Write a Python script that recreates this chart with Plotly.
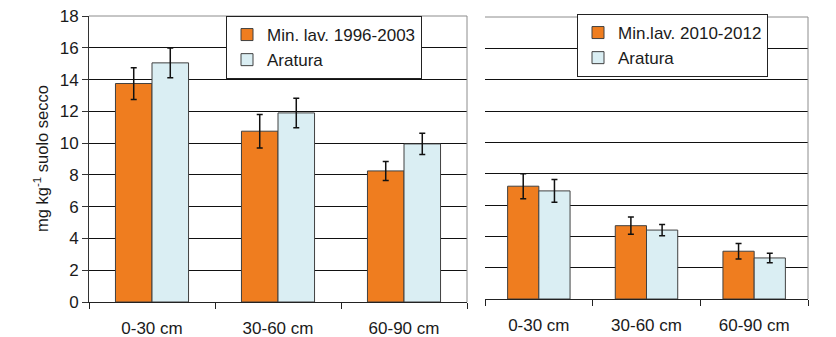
import plotly.graph_objects as go

categories = ["0-30 cm", "30-60 cm", "60-90 cm"]

left_min_vals = [13.75, 10.75, 8.25]
left_min_err = [1.0, 1.05, 0.6]
left_ara_vals = [15.05, 11.9, 9.95]
left_ara_err = [0.93, 0.93, 0.67]

right_min_vals = [7.2, 4.68, 3.05]
right_min_err = [0.8, 0.55, 0.5]
right_ara_vals = [6.9, 4.4, 2.62]
right_ara_err = [0.72, 0.36, 0.3]

name_left_min = "Min. lav. 1996-2003"
name_right_min = "Min.lav. 2010-2012"
name_ara = "Aratura"

y_ticks = [0, 2, 4, 6, 8, 10, 12, 14, 16, 18]

ORANGE = "#EF7D1F"
BLUE = "#DAEEF3"
EDGE = "#404040"
FONT = "Liberation Sans, Arial, sans-serif"
TXT = "#1a1a1a"
W, H = 836, 337

def err(arr):
    return dict(type="data", array=arr, visible=True, color="#111111", thickness=1.5, width=3)

fig = go.Figure()
fig.add_trace(go.Bar(x=categories, y=left_min_vals, name=name_left_min, marker=dict(color=ORANGE, line=dict(color=EDGE, width=1)),
                     error_y=err(left_min_err), xaxis="x", yaxis="y", legend="legend"))
fig.add_trace(go.Bar(x=categories, y=left_ara_vals, name=name_ara, marker=dict(color=BLUE, line=dict(color=EDGE, width=1)),
                     error_y=err(left_ara_err), xaxis="x", yaxis="y", legend="legend"))
fig.add_trace(go.Bar(x=categories, y=right_min_vals, name=name_right_min, marker=dict(color=ORANGE, line=dict(color=EDGE, width=1)),
                     error_y=err(right_min_err), xaxis="x2", yaxis="y2", legend="legend2"))
fig.add_trace(go.Bar(x=categories, y=right_ara_vals, name=name_ara, marker=dict(color=BLUE, line=dict(color=EDGE, width=1)),
                     error_y=err(right_ara_err), xaxis="x2", yaxis="y2", legend="legend2"))

tickfont = dict(family=FONT, size=17, color=TXT)
legfont = dict(family=FONT, size=17, color=TXT)

xl = (89 / W, 467 / W)
xr = (485 / W, 808 / W)
yl = (1 - 302 / H, 1 - 16 / H)
yr = (1 - 299 / H, 1 - 17 / H)

fig.update_layout(
    width=W, height=H,
    margin=dict(l=0, r=0, t=0, b=0, autoexpand=False),
    paper_bgcolor="white", plot_bgcolor="white",
    barmode="group", bargap=0.42, bargroupgap=0,
    font=dict(family=FONT, size=17, color=TXT),
    xaxis=dict(domain=xl, anchor="y", type="category", tickson="boundaries", ticks="outside", ticklen=6,
               tickcolor="#222", showline=True, linecolor="#222", linewidth=1, showgrid=False,
               tickfont=tickfont, ticklabelstandoff=11, automargin=False),
    yaxis=dict(domain=yl, anchor="x", range=[0, 18], tickvals=y_ticks, ticks="outside", ticklen=6,
               tickcolor="#333", showline=True, linecolor="#333", linewidth=1,
               showgrid=True, gridcolor="#111111", gridwidth=1, zeroline=False, tickfont=tickfont,
               automargin=False),
    xaxis2=dict(domain=xr, anchor="y2", type="category", tickson="boundaries", ticks="outside", ticklen=6,
                tickcolor="#222", showline=True, linecolor="#222", linewidth=1, showgrid=False,
                tickfont=tickfont, ticklabelstandoff=11, automargin=False),
    yaxis2=dict(domain=yr, anchor="x2", range=[0, 18], tickvals=y_ticks, ticks="", showticklabels=False,
                showline=False, showgrid=True, gridcolor="#111111", gridwidth=1, zeroline=False,
                automargin=False),
    legend=dict(x=226 / W, y=1 - 16 / H, xanchor="left", yanchor="top", bgcolor="white",
                bordercolor="#222", borderwidth=1, font=legfont, traceorder="normal", itemwidth=30),
    legend2=dict(x=577 / W, y=1 - 14 / H, xanchor="left", yanchor="top", bgcolor="white",
                 bordercolor="#222", borderwidth=1, font=legfont, traceorder="normal", itemwidth=30),
    showlegend=True,
)

# plot-area borders (grey top and right edges)
for xd, yd in (("x domain", "y domain"), ("x2 domain", "y2 domain")):
    fig.add_shape(type="line", xref=xd, yref=yd, x0=0, x1=1, y0=1, y1=1,
                  line=dict(color="#8c8c8c", width=1), layer="above")
    fig.add_shape(type="line", xref=xd, yref=yd, x0=1, x1=1, y0=0, y1=1,
                  line=dict(color="#8c8c8c", width=1), layer="above")

fig.add_annotation(text="mg kg<sup>-1</sup> suolo secco", xref="paper", yref="paper",
                   x=41 / W, y=1 - 159 / H, xanchor="center", yanchor="middle", textangle=-90,
                   showarrow=False, font=dict(family=FONT, size=16.5, color=TXT))

fig.write_html("out.html")
